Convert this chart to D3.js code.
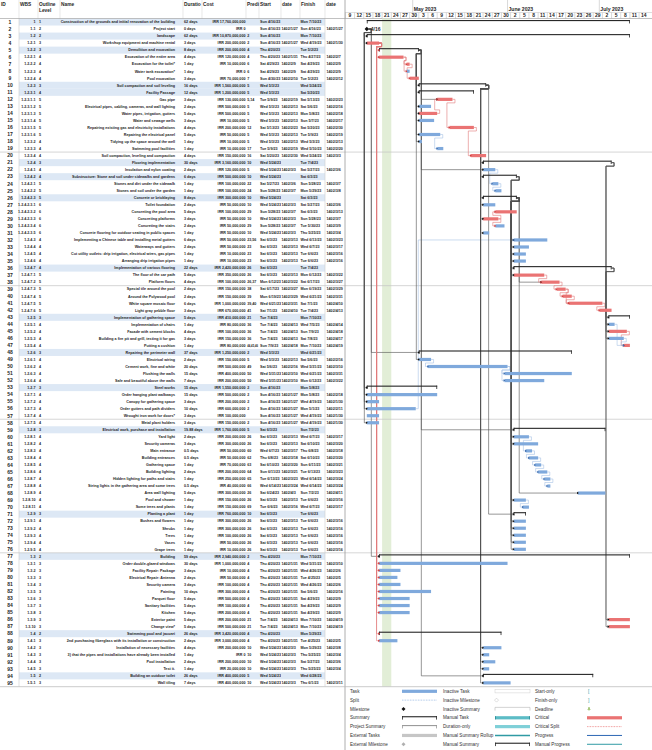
<!DOCTYPE html>
<html>
<head>
<meta charset="utf-8">
<script src="https://cdn.jsdelivr.net/npm/d3@7"></script>
<style>
  body { margin: 0; background: #fff; }
  svg { display: block; font-family: "Liberation Sans", Arial, sans-serif; }
</style>
</head>
<body>
<svg id="chart" width="652" height="750"></svg>
<script>
const wbs = ["1","1.1","1.2","1.2.1","1.2.2","1.2.2.1","1.2.2.2","1.2.2.3","1.2.2.4","1.2.3","1.2.3.1","1.2.3.1.1","1.2.3.1.2","1.2.3.1.3","1.2.3.1.4","1.2.3.1.5","1.2.3.1.6","1.2.3.2","1.2.3.3","1.2.3.4",
  "1.2.4","1.2.4.1","1.2.4.2","1.2.4.2.1","1.2.4.2.2","1.2.4.2.3","1.2.4.2.3.1","1.2.4.2.3.2","1.2.4.2.3.3","1.2.4.2.3.4","1.2.4.2.3.5","1.2.4.3","1.2.4.4","1.2.4.5","1.2.4.6","1.2.4.7","1.2.4.7.1","1.2.4.7.2","1.2.4.7.3","1.2.4.7.4",
  "1.2.4.7.5","1.2.4.7.6","1.2.5","1.2.5.1","1.2.5.2","1.2.5.3","1.2.5.4","1.2.6","1.2.6.1","1.2.6.2","1.2.6.3","1.2.6.4","1.2.7","1.2.7.1","1.2.7.2","1.2.7.3","1.2.7.4","1.2.7.5","1.2.8","1.2.8.1",
  "1.2.8.2","1.2.8.3","1.2.8.4","1.2.8.5","1.2.8.6","1.2.8.7","1.2.8.8","1.2.8.9","1.2.8.10","1.2.8.11","1.2.9","1.2.9.1","1.2.9.2","1.2.9.3","1.2.9.4","1.2.9.5","1.3","1.3.1","1.3.2","1.3.3",
  "1.3.4","1.3.5","1.3.6","1.3.7","1.3.8","1.3.9","1.3.10","1.4","1.4.1","1.4.2","1.4.3","1.4.4","1.4.5","1.5","1.5.1"];

const names = ["Construction of the grounds and initial renovation of the building","Project start","landscape","Workshop equipment and machine rental","Demolition and excavation",
  "Excavation of the entire area","Excavation for the toilet*","Water tank excavation*","Pool excavation","Soil compaction and soil leveling",
  "Facility Passage","Gas pipe","Electrical pipes, cabling, cameras, and wall lighting","Water pipes, irrigation, gutters","Water and sewage wells",
  "Repairing existing gas and electricity installations","Repairing the electrical panel","Tidying up the space around the well","Swimming pool facilities","Soil compaction, leveling and compaction",
  "Flooring implementation","Insulation and nylon coating","Substructure: Stone and soil under sidewalks and gardens","Stones and dirt under the sidewalk","Stones and soil under the garden",
  "Concrete or bricklaying","Toilet foundation","Concreting the pool area","Concreting platforms","Concreting the stairs",
  "Concrete flooring for outdoor seating in public spaces","Implementing a Chinese table and installing metal gutters","Waterways and gutters","Cut utility outlets: drip irrigation, electrical wires, gas pipes","Arranging drip irrigation pipes",
  "Implementation of various flooring","The floor of the car path","Platform floors","Special tile around the pool","Around the Polywood pool",
  "White square mosaic floor","Light gray pebble floor","Implementation of gathering space","Implementation of chairs","Facade with cement blocks",
  "Building a fire pit and grill, testing it for gas","Putting a cushion","Repairing the perimeter wall","Electrical wiring","Cement work, fine and white",
  "Flushing the walls","Safe and beautiful above the walls","Steel works","Order hanging plant walkways","Canopy for gathering space",
  "Order gutters and path dividers","Wrought iron work for doors*","Metal plant holders","Electrical work, purchase and installation","Yard light",
  "Security cameras","Main entrance","Building entrances","Gathering space","Building lighting",
  "Hidden lighting for paths and stairs","String lights in the gathering area and some trees","Area wall lighting","Pool and shower","Some trees and plants",
  "Planting a plant","Bushes and flowers","Shrubs","Trees","Vases",
  "Grape trees","Building","Order double-glazed windows","Facility Repair: Package","Electrical Repair: Antenna",
  "Security camera","Painting","Parquet floor","Sanitary facilities","Kitchen",
  "Exterior paint","Change view*","Swimming pool and jacuzzi","2nd purchasing fiberglass with its installation or construction","Installation of necessary facilities",
  "3) that the pipes and installations have already been installed","Pool installation","Test it.","Building an outdoor toilet","Wall tiling"];

const durations = ["62 days","0 days","62 days","3 days","8 days","4 days","1 day","1 day","3 days","16 days","12 days","3 days","2 days","5 days","3 days","4 days","5 days","1 day","1 day","4 days",
  "30 days","2 days","6 days","1 day","1 day","8 days","2 days","5 days","3 days","2 days","1 day","6 days","2 days","1 day","1 day","22 days","5 days","4 days","2 days","2 days",
  "6 days","3 days","5 days","1 day","4 days","3 days","1 day","37 days","2 days","20 days","15 days","7 days","15 days","15 days","3 days","10 days","3 days","3 days","19.88 days","2 days",
  "3 days","0.5 days","0.5 days","1 day","2 days","1 day","0.5 days","5 days","1 day","1 day","1 day","1 day","1 day","1 day","1 day","1 day","59 days","30 days","3 days","2 days",
  "3 days","10 days","5 days","5 days","5 days","5 days","5 days","26 days","2 days","4 days","1 day","2 days","1 day","26 days","7 days"];

const costs = ["17,760,000,000","0","10,870,000,000","200,000,000","200,000,000","120,000,000","10,000,000","0","70,000,000","1,560,000,000",
  "1,200,000,000","130,000,000","500,000,000","500,000,000","10,000,000","200,000,000","50,000,000","10,000,000","10,000,000","150,000,000",
  "3,160,000,000","120,000,000","500,000,000","100,000,000","100,000,000","300,000,000","50,000,000","100,000,000","50,000,000","50,000,000",
  "50,000,000","50,000,000","50,000,000","10,000,000","10,000,000","2,420,000,000","350,000,000","100,000,000","150,000,000","150,000,000",
  "1,000,000,000","670,000,000","410,000,000","80,000,000","100,000,000","150,000,000","80,000,000","1,250,000,000","150,000,000","500,000,000",
  "400,000,000","200,000,000","1,550,000,000","500,000,000","200,000,000","600,000,000","100,000,000","150,000,000","1,760,000,000","200,000,000",
  "300,000,000","50,000,000","50,000,000","70,000,000","200,000,000","250,000,000","40,000,000","300,000,000","150,000,000","150,000,000",
  "760,000,000","300,000,000","300,000,000","100,000,000","50,000,000","10,000,000","2,940,000,000","1,000,000,000","10,000,000","50,000,000",
  "100,000,000","300,000,000","500,000,000","100,000,000","200,000,000","200,000,000","500,000,000","3,420,000,000","3,000,000,000","200,000,000",
  "0","200,000,000","20,000,000","400,000,000","400,000,000"];

const preds = ["","","2","2","4","4","6","6","7","5","5","5,14","5","5","5","12","5","5","17","16",
  "10","5","10","22","24","10","10","29","10","29","10","23,56","23","23","23","26","26","26,37","38","39",
  "39,40","41","21","36","36","36","44,45,46","2","5","49","50","50","2","2","2","2","","2","5","26",
  "26","60","62","63","64","65","66","26","26","69","10","26","26","26","26","26","2","4","4","4",
  "4","4","4","4","4","21","21","4","4","10","10","10","10","5","10"];

const starts = ["Sun 4/16/23","Sun 4/16/23","Sun 4/16/23","Sun 4/16/23","Thu 4/20/23","Thu 4/20/23","Sat 4/29/23","Sat 4/29/23","Sun 4/30/23","Wed 5/3/23",
  "Wed 5/3/23","Tue 5/9/23","Wed 5/3/23","Wed 5/3/23","Wed 5/3/23","Sat 5/13/23","Wed 5/3/23","Wed 5/3/23","Tue 5/9/23","Sat 5/20/23",
  "Wed 5/24/23","Wed 5/24/23","Wed 5/24/23","Sat 5/27/23","Sun 5/28/23","Wed 5/24/23","Wed 5/24/23","Sun 5/28/23","Wed 5/24/23","Sun 5/28/23",
  "Wed 5/24/23","Sat 6/3/23","Sat 6/3/23","Sat 6/3/23","Sat 6/3/23","Sat 6/3/23","Sat 6/3/23","Mon 6/12/23","Sat 6/17/23","Mon 6/19/23",
  "Wed 6/21/23","Sat 7/1/23","Tue 7/4/23","Tue 7/4/23","Tue 7/4/23","Tue 7/4/23","Sun 7/9/23","Wed 5/3/23","Wed 5/3/23","Sat 5/6/23",
  "Wed 5/31/23","Wed 5/31/23","Sun 4/16/23","Sun 4/16/23","Sun 4/16/23","Sun 4/16/23","Sun 4/16/23","Sun 4/16/23","Sat 6/3/23","Sat 6/3/23",
  "Sat 6/3/23","Wed 6/7/23","Thu 6/8/23","Sat 6/10/23","Sun 6/11/23","Tue 6/13/23","Wed 6/14/23","Sat 6/24/23","Sat 6/3/23","Tue 6/6/23",
  "Sat 6/3/23","Sat 6/3/23","Sat 6/3/23","Sat 6/3/23","Sat 6/3/23","Sat 6/3/23","Thu 4/20/23","Thu 4/20/23","Thu 4/20/23","Thu 4/20/23",
  "Thu 4/20/23","Thu 4/20/23","Thu 4/20/23","Thu 4/20/23","Thu 4/20/23","Tue 7/4/23","Tue 7/4/23","Thu 4/20/23","Thu 4/20/23","Wed 5/24/23",
  "Wed 5/24/23","Wed 5/24/23","Wed 5/24/23","Wed 5/24/23","Wed 5/24/23"];

const startsFa = ["","1402/1/27","","1402/1/27","","1402/1/31","1402/2/9","1402/2/9","1402/2/10","",
  "","1402/2/19","1402/2/13","1402/2/13","1402/2/13","1402/2/23","1402/2/13","1402/2/13","1402/2/19","1402/2/30",
  "","1402/3/3","","1402/3/6","1402/3/7","","1402/3/3","1402/3/7","1402/3/3","1402/3/7",
  "1402/3/3","1402/3/13","1402/3/13","1402/3/13","1402/3/13","","1402/3/13","1402/3/22","1402/3/27","1402/3/29",
  "1402/3/31","1402/4/10","","1402/4/13","1402/4/13","1402/4/13","1402/4/18","","1402/2/13","1402/2/16",
  "1402/3/10","1402/3/10","","1402/1/27","1402/1/27","1402/1/27","1402/1/27","1402/1/27","","1402/3/13",
  "1402/3/13","1402/3/17","1402/3/18","1402/3/20","1402/3/21","1402/3/23","1402/3/24","1402/4/3","1402/3/13","1402/3/16",
  "","1402/3/13","1402/3/13","1402/3/13","1402/3/13","1402/3/13","","1402/1/31","1402/1/31","1402/1/31",
  "1402/1/31","1402/1/31","1402/1/31","1402/1/31","1402/1/31","1402/4/13","1402/4/13","","1402/1/31","1402/3/3",
  "1402/3/3","1402/3/3","1402/3/3","","1402/3/3"];

const finishes = ["Mon 7/10/23","Sun 4/16/23","Mon 7/10/23","Wed 4/19/23","Tue 5/2/23","Thu 4/27/23","Sat 4/29/23","Sat 4/29/23","Tue 5/2/23","Wed 5/24/23",
  "Sat 5/20/23","Sat 5/13/23","Sat 5/6/23","Mon 5/8/23","Sun 5/7/23","Sat 5/20/23","Tue 5/9/23","Wed 5/3/23","Wed 5/10/23","Wed 5/24/23",
  "Tue 7/4/23","Sat 5/27/23","Sat 6/3/23","Sun 5/28/23","Mon 5/29/23","Sat 6/3/23","Sat 5/27/23","Sat 6/3/23","Sun 5/28/23","Tue 5/30/23",
  "Thu 5/25/23","Wed 6/13/23","Wed 6/7/23","Tue 6/6/23","Tue 6/6/23","Tue 7/4/23","Mon 6/12/23","Sat 6/17/23","Mon 6/19/23","Wed 6/21/23",
  "Sat 7/1/23","Tue 7/4/23","Mon 7/10/23","Wed 7/5/23","Sun 7/9/23","Sat 7/8/23","Mon 7/10/23","Wed 6/21/23","Sat 5/6/23","Wed 5/31/23",
  "Wed 6/21/23","Mon 6/12/23","Mon 5/8/23","Mon 5/8/23","Wed 4/19/23","Mon 5/1/23","Wed 4/19/23","Wed 4/19/23","Sun 7/2/23","Wed 6/7/23",
  "Sat 6/10/23","Thu 6/8/23","Sat 6/10/23","Sun 6/11/23","Tue 6/13/23","Wed 6/14/23","Wed 6/14/23","Sun 7/2/23","Tue 6/6/23","Wed 6/7/23",
  "Tue 6/6/23","Tue 6/6/23","Tue 6/6/23","Tue 6/6/23","Tue 6/6/23","Tue 6/6/23","Mon 7/10/23","Wed 5/31/23","Wed 4/26/23","Tue 4/25/23",
  "Wed 4/26/23","Sat 5/6/23","Sat 4/29/23","Sat 4/29/23","Sat 4/29/23","Mon 7/10/23","Mon 7/10/23","Mon 5/29/23","Tue 4/25/23","Mon 5/29/23",
  "Thu 5/25/23","Sat 5/27/23","Thu 5/25/23","Wed 6/28/23","Thu 6/1/23"];

const finishesFa = ["","1402/1/27","","1402/1/30","","1402/2/7","1402/2/9","1402/2/9","1402/2/12","",
  "","1402/2/23","1402/2/16","1402/2/18","1402/2/17","1402/2/30","1402/2/19","1402/2/13","1402/2/20","1402/3/3",
  "","1402/3/6","","1402/3/7","1402/3/8","","1402/3/6","1402/3/13","1402/3/7","1402/3/9",
  "1402/3/4","1402/3/23","1402/3/17","1402/3/16","1402/3/16","","1402/3/22","1402/3/27","1402/3/29","1402/3/31",
  "1402/4/10","1402/4/13","","1402/4/14","1402/4/18","1402/4/17","1402/4/19","","1402/2/16","1402/3/10",
  "1402/3/31","1402/3/22","","1402/2/18","1402/1/30","1402/2/11","1402/1/30","1402/1/30","","1402/3/17",
  "1402/3/20","1402/3/18","1402/3/20","1402/3/21","1402/3/23","1402/3/24","1402/3/24","1402/4/11","1402/3/16","1402/3/17",
  "","1402/3/16","1402/3/16","1402/3/16","1402/3/16","1402/3/16","","1402/3/10","1402/2/6","1402/2/5",
  "1402/2/6","1402/2/16","1402/2/9","1402/2/9","1402/2/9","1402/4/19","1402/4/19","","1402/2/5","1402/3/8",
  "1402/3/4","1402/3/6","1402/3/4","","1402/3/11"];

const criticalIds = [4, 6, 7, 9, 12, 14, 16, 20, 28, 29, 37, 38, 39, 40, 41, 42, 45, 47, 86, 87];
const holiday = ["4/21/23", "4/24/23"];
const timeStart = "4/9/23", timeEnd = "7/16/23";
const pageBreakAfter = [19, 38, 57, 76];
const headers = ["ID", "WBS", "Outline", "Name", "Duratio", "Cost", "Predi", "Start", "date", "Finish", "date"];

const legendCols = [
  ["Task", "Split", "Milestone", "Summary", "Project Summary", "External Tasks", "External Milestone"],
  ["Inactive Task", "Inactive Milestone", "Inactive Summary", "Manual Task", "Duration-only", "Manual Summary Rollup", "Manual Summary"],
  ["Start-only", "Finish-only", "Deadline", "Critical", "Critical Split", "Progress", "Manual Progress"]
];

// ---- setup ----
const svg = d3.select("#chart");
const parseDay = d3.timeParse("%m/%d/%y");
const day = s => parseDay(s.split(" ").pop());
const ids = names.map((d, i) => i + 1);
const levels = wbs.map(d => d.split(".").length);

const tasks = ids.map((id, i) => ({
  id: id,
  summary: i < ids.length - 1 && levels[i + 1] > levels[i],
  milestone: durations[i] === "0 days",
  critical: criticalIds.includes(id),
  start: day(starts[i]),
  end: d3.timeDay.offset(day(finishes[i]), 1),
  preds: preds[i] ? preds[i].split(",").map(Number) : []
}));

const x = d3.scaleTime().domain([day(timeStart), day(timeEnd)]).range([345.4, 645.2]);
const y = d3.scaleBand().domain(ids).range([18.5, 686.4]);
const yc = id => y(id) + y.bandwidth() / 2;
const GX = 345, W = 652, TOP = 18.5, BOT = 686.4;

const BLUE = "#7fa9dc", RED = "#ea7373", INK = "#1f1f1f";

// ---- table ----
const table = svg.append("g");
table.selectAll("rect.sum")
  .data(tasks.filter(t => t.summary))
  .join("rect")
  .attr("x", 19).attr("width", 306)
  .attr("y", d => y(d.id)).attr("height", y.bandwidth())
  .attr("fill", "#dde8f5");

const colX = [0, 19, 38, 60, 183, 202, 246, 259, 281, 300, 325, 345];
table.selectAll("line.hcol")
  .data(colX.slice(1, -1))
  .join("line")
  .attr("x1", d => d).attr("x2", d => d)
  .attr("y1", 0).attr("y2", TOP)
  .attr("stroke", "#d8d8d8").attr("stroke-width", 0.6);
table.selectAll("line.bcol")
  .data([19, 325])
  .join("line")
  .attr("x1", d => d).attr("x2", d => d)
  .attr("y1", TOP).attr("y2", BOT)
  .attr("stroke", "#cfcfcf").attr("stroke-width", 0.6);

table.selectAll("text.head")
  .data(headers)
  .join("text")
  .attr("x", (d, i) => colX[i] + 1)
  .attr("y", 6.2)
  .attr("font-size", 4.8).attr("font-weight", "bold").attr("fill", INK)
  .text(d => d);
table.append("text").attr("x", 39).attr("y", 12).attr("font-size", 4.8)
  .attr("font-weight", "bold").attr("fill", INK).text("Level");

// start column is cut at its edge like in the source
svg.append("clipPath").attr("id", "clipStart")
  .append("rect").attr("x", 259.5).attr("y", -20).attr("width", 21.5).attr("height", 40);

const rows = table.selectAll("g.row")
  .data(tasks)
  .join("g")
  .attr("transform", d => `translate(0,${yc(d.id) + 1.3})`)
  .attr("font-size", 3.7).attr("font-weight", "bold").attr("fill", INK);

rows.append("text").attr("x", 10).attr("text-anchor", "middle")
  .attr("font-size", 5).attr("y", 0.5).text(d => d.id);
rows.append("text").attr("x", 35.5).attr("text-anchor", "end").text((d, i) => wbs[i]);
rows.append("text").attr("x", 39).text((d, i) => levels[i]);
rows.append("text").attr("x", 175).attr("text-anchor", "end").text((d, i) => names[i]);
rows.append("text").attr("x", 184).text((d, i) => durations[i]);
rows.append("text").attr("x", 245.5).attr("text-anchor", "end").text((d, i) => "IRR " + costs[i]);
rows.append("text").attr("x", 247.2)
  .attr("font-size", (d, i) => preds[i].length > 5 ? 2.8 : null)
  .text((d, i) => preds[i]);
rows.append("text").attr("x", 260).attr("clip-path", "url(#clipStart)").text((d, i) => starts[i]);
rows.append("text").attr("x", 281.5).text((d, i) => startsFa[i]);
rows.append("text").attr("x", 300.5).text((d, i) => finishes[i]);
rows.append("text").attr("x", 326.5).text((d, i) => finishesFa[i]);

// ---- timescale ----
const scale = svg.append("g").attr("fill", INK).attr("font-weight", "bold");
const months = d3.timeMonth.range(d3.timeMonth.ceil(x.domain()[0]), x.domain()[1]);
scale.selectAll("line.m")
  .data(months)
  .join("line")
  .attr("x1", d => x(d)).attr("x2", d => x(d))
  .attr("y1", 0).attr("y2", 12.5)
  .attr("stroke", "#bfbfbf").attr("stroke-width", 0.6);
scale.selectAll("text.m")
  .data(months)
  .join("text")
  .attr("x", d => x(d) + 1)
  .attr("y", 10.5)
  .attr("font-size", 5.1)
  .text(d3.timeFormat("%B %Y"));

const ticks = d3.timeDay.range(x.domain()[0], x.domain()[1], 3);
scale.selectAll("line.d")
  .data(ticks)
  .join("line")
  .attr("x1", d => x(d)).attr("x2", d => x(d))
  .attr("y1", 12.5).attr("y2", TOP)
  .attr("stroke", "#bfbfbf").attr("stroke-width", 0.6);
scale.selectAll("text.d")
  .data(ticks)
  .join("text")
  .attr("x", d => (x(d) + x(d3.timeDay.offset(d, 3))) / 2)
  .attr("y", 17.4)
  .attr("text-anchor", "middle")
  .attr("font-size", 5)
  .text(d3.timeFormat("%-d"));

// ---- frame lines ----
svg.append("line").attr("x1", GX).attr("x2", W).attr("y1", 12.5).attr("y2", 12.5)
  .attr("stroke", "#c8c8c8").attr("stroke-width", 0.6);
svg.append("line").attr("x1", 0).attr("x2", W).attr("y1", TOP).attr("y2", TOP)
  .attr("stroke", "#a6a6a6").attr("stroke-width", 0.7);

// holiday band
svg.append("rect")
  .attr("x", x(day(holiday[0]))).attr("width", x(day(holiday[1])) - x(day(holiday[0])))
  .attr("y", TOP).attr("height", BOT - TOP)
  .attr("fill", "#e2eed7");

svg.selectAll("line.pb")
  .data(pageBreakAfter)
  .join("line")
  .attr("x1", 0).attr("x2", W)
  .attr("y1", d => y(d) + y.bandwidth()).attr("y2", d => y(d) + y.bandwidth())
  .attr("stroke", "#c4c4c4").attr("stroke-width", 0.7);

// ---- links ----
const byId = new Map(tasks.map(t => [t.id, t]));
const links = [];
tasks.forEach(t => t.preds.forEach(p => links.push({ s: byId.get(p), t: t })));

function linkColor(p) {
  if (p.summary || p.milestone) return "#505050";
  return p.critical ? "#e07b7b" : "#a8c3e6";
}
function arrowColor(p) {
  if (p.summary || p.milestone) return "#111";
  return p.critical ? "#d23c3c" : "#3f6fb0";
}
function linkPath(d) {
  const off = 2.5, h = y.bandwidth() / 2;
  const x1 = d.s.milestone ? x(d.s.start) + 2 : x(d.s.end), y1 = yc(d.s.id);
  const x2 = x(d.t.start), y2 = yc(d.t.id);
  if (x2 >= x1 + 2 * off) return `M${x1},${y1}H${x1 + off}V${y2}H${x2}`;
  const sg = y2 > y1 ? 1 : -1;
  return `M${x1},${y1}H${x1 + off}V${y1 + sg * h}H${x2 - off}V${y2}H${x2}`;
}

const gLinks = svg.append("g").attr("fill", "none");
gLinks.selectAll("path")
  .data(links)
  .join("path")
  .attr("d", linkPath)
  .attr("stroke", d => linkColor(d.s))
  .attr("stroke-width", 0.6);

// ---- bars ----
const gBars = svg.append("g");
gBars.selectAll("rect.task")
  .data(tasks.filter(t => !t.summary && !t.milestone))
  .join("rect")
  .attr("x", d => x(d.start))
  .attr("width", d => Math.max(1.5, x(d.end) - x(d.start)))
  .attr("y", d => yc(d.id) - 1.6)
  .attr("height", 3.2)
  .attr("fill", d => d.critical ? RED : BLUE);

const sums = gBars.selectAll("g.sum")
  .data(tasks.filter(t => t.summary))
  .join("g")
  .attr("fill", "#262626");
sums.append("rect")
  .attr("x", d => x(d.start)).attr("width", d => x(d.end) - x(d.start))
  .attr("y", d => yc(d.id) - 2).attr("height", 1.1);
sums.append("rect")
  .attr("x", d => x(d.start)).attr("width", 0.8)
  .attr("y", d => yc(d.id) - 2).attr("height", 3.4);
sums.append("rect")
  .attr("x", d => x(d.end) - 0.8).attr("width", 0.8)
  .attr("y", d => yc(d.id) - 2).attr("height", 3.4);

const miles = gBars.selectAll("g.mile")
  .data(tasks.filter(t => t.milestone))
  .join("g")
  .attr("transform", d => `translate(${x(d.start)},${yc(d.id)})`);
miles.append("path").attr("d", "M0,-2.2L2.2,0L0,2.2L-2.2,0Z").attr("fill", "#111");
miles.append("text").attr("x", 4).attr("y", 1.7).attr("font-size", 5)
  .attr("font-weight", "bold").attr("fill", INK)
  .text(d => d3.timeFormat("%-m/%-d")(d.start));

gBars.selectAll("path.arrow")
  .data(links)
  .join("path")
  .attr("d", d => {
    const ax = x(d.t.start) + 1, ay = yc(d.t.id);
    return `M${ax - 1.9},${ay - 1.3}L${ax},${ay}L${ax - 1.9},${ay + 1.3}Z`;
  })
  .attr("fill", d => arrowColor(d.s));

// divider between table and chart
svg.append("line").attr("x1", GX).attr("x2", GX).attr("y1", 0).attr("y2", 750)
  .attr("stroke", "#9a9a9a").attr("stroke-width", 0.8);
svg.append("line").attr("x1", 0).attr("x2", W).attr("y1", BOT + 0.3).attr("y2", BOT + 0.3)
  .attr("stroke", "#b5b5b5").attr("stroke-width", 0.7);

// ---- legend ----
const lg = svg.append("g");
const lgRowY = i => 691.3 + i * 8.83;
const lgLabelX = [350, 443, 535], lgSwatchX = [402, 495, 587], SW = 35;
legendCols.forEach((col, c) => {
  lg.selectAll("text.l" + c)
    .data(col)
    .join("text")
    .attr("x", lgLabelX[c]).attr("y", (d, i) => lgRowY(i) + 1.6)
    .attr("font-size", 4.6).attr("fill", "#333")
    .text(d => d);
});

function swatch(c, i, kind) {
  const x0 = lgSwatchX[c], cy = lgRowY(i), g = lg.append("g");
  const bar = (fill, stroke) => g.append("rect").attr("x", x0).attr("y", cy - 1.6)
    .attr("width", SW).attr("height", 3.2).attr("fill", fill)
    .attr("stroke", stroke || "none").attr("stroke-width", 0.5);
  const bracket = (col, stroke) => {
    if (stroke) {
      g.append("path").attr("d", `M${x0},${cy + 1.6}V${cy - 1.6}H${x0 + SW}V${cy + 1.6}`)
        .attr("fill", "none").attr("stroke", col).attr("stroke-width", 0.6);
      return;
    }
    g.append("rect").attr("x", x0).attr("y", cy - 1.6).attr("width", SW).attr("height", 1.1).attr("fill", col);
    g.append("rect").attr("x", x0).attr("y", cy - 1.6).attr("width", 0.8).attr("height", 3.4).attr("fill", col);
    g.append("rect").attr("x", x0 + SW - 0.8).attr("y", cy - 1.6).attr("width", 0.8).attr("height", 3.4).attr("fill", col);
  };
  const diamond = (fill, stroke) => g.append("path")
    .attr("d", `M${x0 + 1.5},${cy - 2}L${x0 + 3.5},${cy}L${x0 + 1.5},${cy + 2}L${x0 - 0.5},${cy}Z`)
    .attr("fill", fill).attr("stroke", stroke || "none").attr("stroke-width", 0.5);
  const line = (col, w, dash) => g.append("line").attr("x1", x0).attr("x2", x0 + SW)
    .attr("y1", cy).attr("y2", cy).attr("stroke", col).attr("stroke-width", w)
    .attr("stroke-dasharray", dash || null);
  switch (kind) {
    case "Task": bar(BLUE); break;
    case "Split": line("#8fb3e0", 0.8, "0.8,0.8"); break;
    case "Milestone": diamond("#111"); break;
    case "Summary": bracket("#262626"); break;
    case "Project Summary": bracket("#9a9a9a"); break;
    case "External Tasks": bar("#c6c6c6"); break;
    case "External Milestone": diamond("#b0b0b0"); break;
    case "Inactive Task": bar("#fff", "#cfcfcf"); break;
    case "Inactive Milestone": diamond("#fff", "#bdbdbd"); break;
    case "Inactive Summary": bracket("#b5b5b5", true); break;
    case "Manual Task": bar("#5cbcc6"); g.append("rect").attr("x", x0).attr("y", cy - 1.6).attr("width", 0.8).attr("height", 3.2).attr("fill", "#2b8a94");
      g.append("rect").attr("x", x0 + SW - 0.8).attr("y", cy - 1.6).attr("width", 0.8).attr("height", 3.2).attr("fill", "#2b8a94"); break;
    case "Duration-only": bar("#7fd0d8"); break;
    case "Manual Summary Rollup": line("#2f9aa4", 1.6); break;
    case "Manual Summary": bracket("#262626"); break;
    case "Start-only": g.append("text").attr("x", x0 + 1).attr("y", cy + 1.7).attr("font-size", 5).attr("fill", "#2f9aa4").text("["); break;
    case "Finish-only": g.append("text").attr("x", x0 + 1).attr("y", cy + 1.7).attr("font-size", 5).attr("fill", "#2f9aa4").text("]"); break;
    case "Deadline": g.append("path").attr("d", `M${x0 + 1},${cy - 1.6}H${x0 + 3}V${cy}H${x0 + 4}L${x0 + 2},${cy + 1.8}L${x0},${cy}H${x0 + 1}Z`).attr("fill", "#a9c97f"); break;
    case "Critical": bar(RED); break;
    case "Critical Split": line(RED, 0.8, "0.8,0.8"); break;
    case "Progress": line("#2c67b4", 1); break;
    case "Manual Progress": line("#2f9aa4", 1); break;
  }
}
legendCols.forEach((col, c) => col.forEach((k, i) => swatch(c, i, k)));
</script>
</body>
</html>
